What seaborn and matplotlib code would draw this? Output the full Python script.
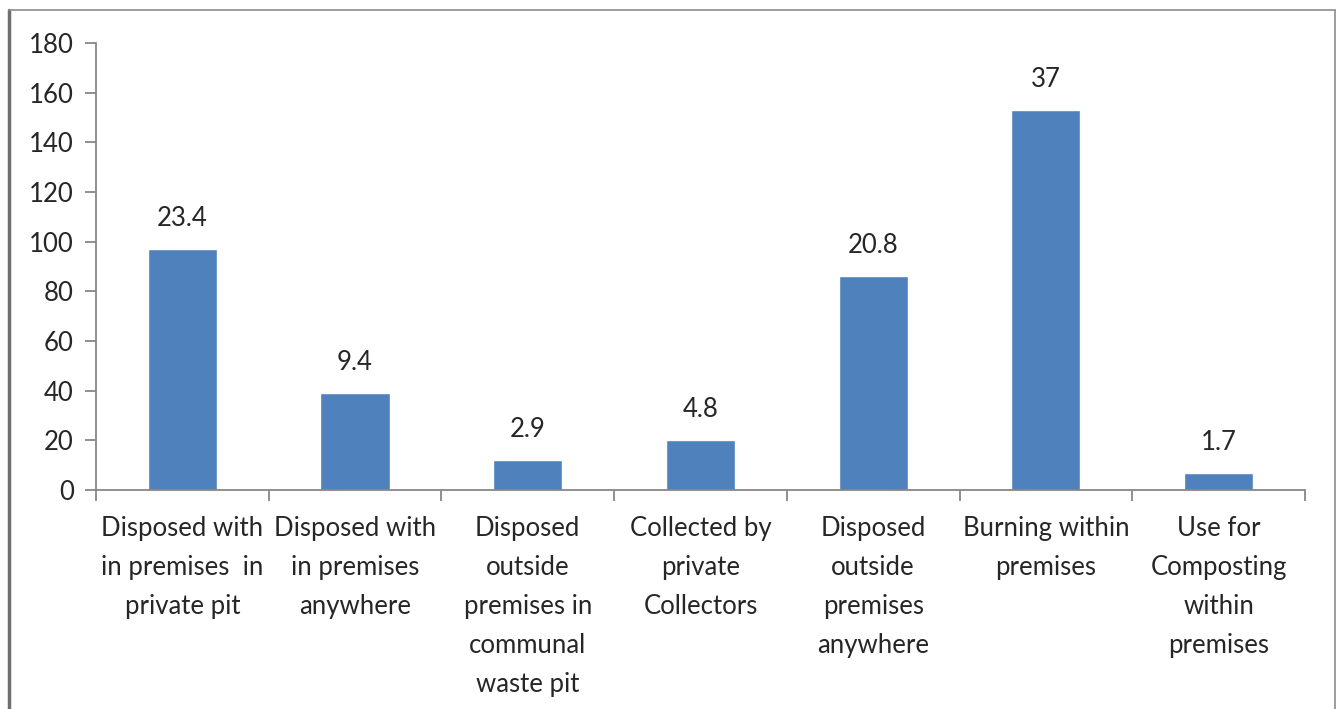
import matplotlib
matplotlib.use("Agg")
import matplotlib.pyplot as plt
from matplotlib.lines import Line2D
import seaborn as sns
import pandas as pd

categories = [
    "Disposed with\nin premises  in\nprivate pit",
    "Disposed with\nin premises\nanywhere",
    "Disposed\noutside\npremises in\ncommunal\nwaste pit",
    "Collected by\nprivate\nCollectors",
    "Disposed\noutside\npremises\nanywhere",
    "Burning within\npremises",
    "Use for\nComposting\nwithin\npremises",
]
households = [97, 39, 12, 20, 86, 153, 7]
percent_labels = ["23.4", "9.4", "2.9", "4.8", "20.8", "37", "1.7"]
y_ticks = [0, 20, 40, 60, 80, 100, 120, 140, 160, 180]

sns.set_theme(style="white")
plt.rcParams["font.family"] = ["Lato", "DejaVu Sans"]

df = pd.DataFrame({"category": categories, "households": households})

fig = plt.figure(figsize=(13.42, 7.09), dpi=100)
ax = fig.add_axes([0.0715, 0.3089, 0.9009, 0.6305])

sns.barplot(data=df, x="category", y="households", color="#4F81BD",
            width=0.4, saturation=1, ax=ax)

axis_grey = "#878787"
text_col = "#262626"
fs = 18.5
ax.set_xlim(-0.5, len(categories) - 0.5)
ax.set_ylim(0, 180)
ax.set_yticks(y_ticks)
ax.set_xlabel("")
ax.set_ylabel("")

for side in ("top", "right"):
    ax.spines[side].set_visible(False)
for side in ("left", "bottom"):
    ax.spines[side].set_color(axis_grey)
    ax.spines[side].set_linewidth(1.3)

ax.tick_params(axis="y", direction="out", length=8, width=1.3, color=axis_grey,
               labelsize=fs, labelcolor=text_col, pad=8, left=True)
ax.set_xticks(range(len(categories)))
ax.set_xticklabels(categories, linespacing=1.69, va="top")
ax.tick_params(axis="x", which="major", length=0, labelsize=fs,
               labelcolor=text_col, pad=19)
ax.set_xticks([i - 0.5 for i in range(len(categories) + 1)], minor=True)
ax.tick_params(axis="x", which="minor", direction="out", length=8, width=1.3,
               color=axis_grey, bottom=True)

for i, (h, txt) in enumerate(zip(households, percent_labels)):
    ax.annotate(txt, (i, h), xytext=(0, 13), textcoords="offset points",
                ha="center", va="bottom", fontsize=fs, color=text_col)

# outer chart frame
W, H = 1342, 709
frame_col = "#8C8C8C"
x0, x1, ytop = 9 / W, 1335 / W, 1 - 10 / H
fig.add_artist(Line2D([x0, x0], [0, ytop], transform=fig.transFigure,
                      color="#6E6E6E", linewidth=2.5))
fig.add_artist(Line2D([x0, x1], [ytop, ytop], transform=fig.transFigure,
                      color=frame_col, linewidth=1.2))
fig.add_artist(Line2D([x1, x1], [0, ytop], transform=fig.transFigure,
                      color=frame_col, linewidth=1.2))

fig.savefig("out.png", dpi=100, facecolor="white")
